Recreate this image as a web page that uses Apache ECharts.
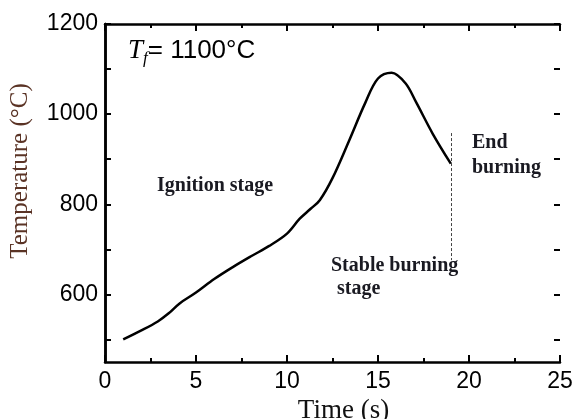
<!DOCTYPE html>
<html>
<head>
<meta charset="utf-8">
<script src="https://cdn.jsdelivr.net/npm/echarts@6/dist/echarts.min.js"></script>
<style>
  html, body { margin: 0; padding: 0; background: #fff; }
  #chart { width: 575px; height: 419px; }
</style>
</head>
<body>
<div id="chart"></div>
<script>
const time = [1.0, 2.0, 2.9, 3.5, 4.1, 5.0, 6.0, 7.0, 8.0, 9.0, 10.0, 10.7, 11.3, 11.8, 12.5, 13.4, 14.3, 15.0, 15.75, 16.5, 17.1, 18.0, 19.0];
const temperature = [500, 520, 540, 558, 580, 604, 634, 660, 684, 707, 735, 768, 790, 809, 858, 940, 1025, 1079, 1092, 1069, 1026, 957, 890];
const endLine = { x: 19, from: 676, to: 958 };

const serif = '"Liberation Serif", "DejaVu Serif", serif';
const sans = '"Liberation Sans", Arial, sans-serif';

const chart = echarts.init(document.getElementById('chart'));

const line = { color: '#000', width: 2.5 };
const tick = { color: '#000', width: 2 };

const xBase = {
  type: 'value', min: 0, max: 25, interval: 5,
  axisLine: { lineStyle: line },
  axisTick: { inside: true, length: 7, lineStyle: tick },
  minorTick: { show: true, splitNumber: 2, length: 4, lineStyle: tick },
  splitLine: { show: false }
};
// frame y axes (450..1200), line only
const yFrame = {
  type: 'value', min: 450, max: 1200, gridIndex: 0,
  axisLine: { show: true, lineStyle: line },
  axisTick: { show: false }, axisLabel: { show: false },
  splitLine: { show: false }
};
// tick/label y axes on a grid ending at 500, same scale
const yTicks = {
  type: 'value', min: 500, max: 1200, interval: 100, gridIndex: 1,
  axisLine: { show: false },
  axisTick: { show: true, inside: true, length: 6, lineStyle: tick },
  splitLine: { show: false }
};

chart.setOption({
  animation: false,
  grid: [
    { left: 105, right: 15, top: 24, bottom: 57, outerBoundsMode: 'none', containLabel: false },
    { left: 105, right: 15, top: 24, bottom: 79.5, outerBoundsMode: 'none', containLabel: false }
  ],
  xAxis: [
    Object.assign({}, xBase, {
      position: 'bottom',
      name: 'Time (s)', nameLocation: 'middle', nameGap: 29,
      nameTextStyle: { fontFamily: serif, fontSize: 27, color: '#111', padding: [0, 0, 0, 22] },
      axisLabel: { fontFamily: sans, fontSize: 23, color: '#000', margin: 8 }
    }),
    Object.assign({}, xBase, { position: 'top', axisLabel: { show: false } }),
    { type: 'value', gridIndex: 1, min: 0, max: 25, show: false }
  ],
  yAxis: [
    Object.assign({}, yFrame, {
      position: 'left',
      name: 'Temperature (°C)', nameLocation: 'middle', nameGap: 72,
      nameTextStyle: { fontFamily: serif, fontSize: 25, color: '#5a3325', padding: [0, 0, 0, 44] }
    }),
    Object.assign({}, yFrame, { position: 'right' }),
    Object.assign({}, yTicks, {
      position: 'left',
      axisLabel: {
        formatter: v => (v % 200 === 0 ? String(v) : ''),
        fontFamily: sans, fontSize: 23, color: '#000', margin: 7
      }
    }),
    Object.assign({}, yTicks, { position: 'right', axisLabel: { show: false } })
  ],
  series: [{
    type: 'line',
    xAxisIndex: 0, yAxisIndex: 0,
    data: time.map((t, i) => [t, temperature[i]]),
    smooth: 0.35,
    showSymbol: false,
    lineStyle: { color: '#000', width: 2.5 },
    markLine: {
      silent: true, symbol: 'none', label: { show: false },
      lineStyle: { color: '#444', width: 1, type: [3, 2] },
      data: [[{ coord: [endLine.x, endLine.to] }, { coord: [endLine.x, endLine.from] }]]
    }
  }],
  graphic: [
    {
      type: 'text', left: 128, top: 37,
      style: {
        text: '{t|T}{f|f}{n|= 1100°C}',
        rich: {
          t: { fontFamily: serif, fontStyle: 'italic', fontSize: 27, fill: '#000' },
          f: { fontFamily: serif, fontStyle: 'italic', fontSize: 17, fill: '#000', padding: [16, 0, 0, 0] },
          n: { fontFamily: sans, fontSize: 26, fill: '#000' }
        }
      }
    },
    { type: 'text', left: 157, top: 176, style: { text: 'Ignition stage', font: 'bold 20px ' + serif, fill: '#1a1a22' } },
    { type: 'text', left: 331, top: 256, style: { text: 'Stable burning', font: 'bold 20px ' + serif, fill: '#1a1a22' } },
    { type: 'text', left: 337, top: 279, style: { text: 'stage', font: 'bold 20px ' + serif, fill: '#1a1a22' } },
    { type: 'text', left: 472, top: 133, style: { text: 'End', font: 'bold 20px ' + serif, fill: '#1a1a22' } },
    { type: 'text', left: 472, top: 158, style: { text: 'burning', font: 'bold 20px ' + serif, fill: '#1a1a22' } }
  ]
});
</script>
</body>
</html>
